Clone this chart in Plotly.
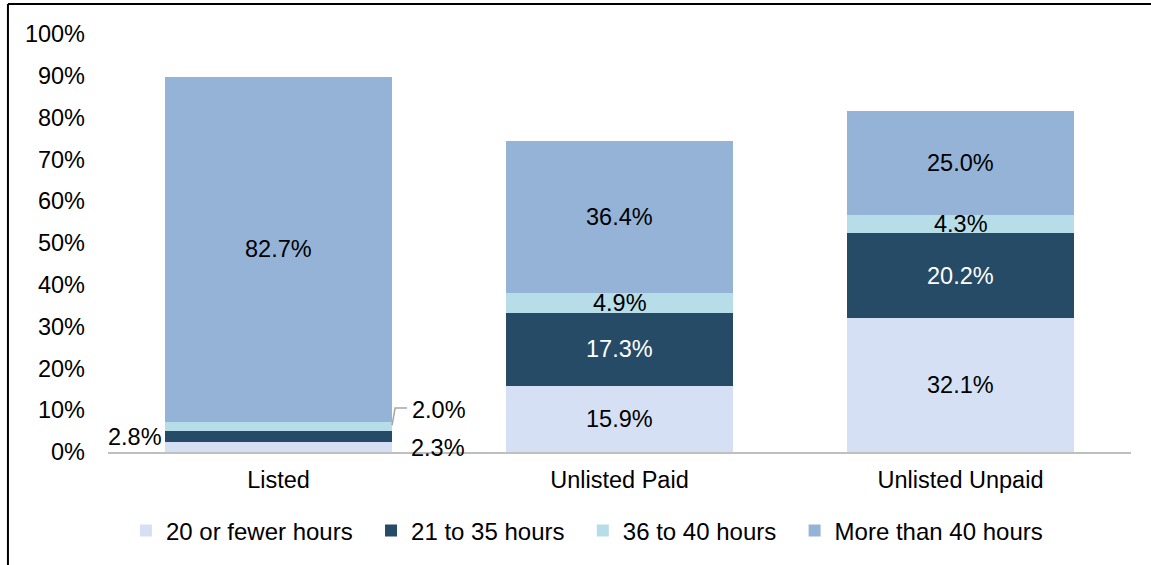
import plotly.graph_objects as go

# values (percent of each group)
categories = ['Listed', 'Unlisted Paid', 'Unlisted Unpaid']
series_names = ['20 or fewer hours', '21 to 35 hours', '36 to 40 hours', 'More than 40 hours']
under_20 = [2.3, 15.9, 32.1]
h21_35 = [2.8, 17.3, 20.2]
h36_40 = [2.0, 4.9, 4.3]
over_40 = [82.7, 36.4, 25.0]
y_ticks = [0, 10, 20, 30, 40, 50, 60, 70, 80, 90, 100]
y_tick_text = ['%d%%' % v for v in y_ticks]

colors = ['#D6E0F5', '#264B66', '#B7DDE8', '#95B3D7']
label_colors = ['black', 'white', 'black', 'black']
FONT = 'Liberation Sans, Arial, sans-serif'
FS = 23.5

series = [under_20, h21_35, h36_40, over_40]

fig = go.Figure()
for name, vals, col in zip(series_names, series, colors):
    # trailing nbsp widens the gap between legend entries a little
    fig.add_trace(go.Bar(name=name + '\u00a0\u00a0', x=categories, y=vals, width=0.667,
                         marker=dict(color=col, line=dict(width=0)),
                         textposition='none', hoverinfo='skip'))

# segment labels: centred in each segment, except the thin Listed ones
annotations = []
for i, cat in enumerate(categories):
    base = 0
    for s, vals in enumerate(series):
        mid = base + vals[i] / 2
        base += vals[i]
        txt = '%.1f%%' % vals[i]
        if i == 0 and s < 3:
            if s == 0:
                annotations.append(dict(x=0.333, y=mid, text=txt, xanchor='left', xshift=17, yshift=-1,
                                        showarrow=False, font=dict(color='black', size=FS)))
            elif s == 1:
                annotations.append(dict(x=-0.333, y=mid, text=txt, xanchor='right', xshift=-1,
                                        showarrow=False, font=dict(color='black', size=FS)))
            else:
                annotations.append(dict(x=0.333, y=mid, text=txt, xanchor='left', xshift=18, yshift=17,
                                        showarrow=False, font=dict(color='black', size=FS)))
            continue
        annotations.append(dict(x=i, y=mid, text=txt, showarrow=False,
                                font=dict(color=label_colors[s], size=FS)))

fig.update_layout(
    barmode='stack',
    width=1151, height=565,
    margin=dict(l=108, r=20, t=34, b=113),
    paper_bgcolor='white', plot_bgcolor='white',
    font=dict(family=FONT, size=FS, color='black'),
    annotations=annotations,
    xaxis=dict(showline=True, linecolor='#BFBFBF', linewidth=2, ticks='',
               showgrid=False, ticklabelstandoff=6, range=[-0.5, 2.5]),
    yaxis=dict(range=[0, 100], tickvals=y_ticks, ticktext=y_tick_text, showgrid=False,
               zeroline=False, showline=False, ticklabelstandoff=22),
    legend=dict(orientation='h', x=0.475, xanchor='center', y=-0.189, yanchor='middle',
                font=dict(size=24), traceorder='normal'),
    showlegend=True,
    shapes=[
        # leader line for the 2.0% label
        dict(type='path', xref='x', yref='y', path='M 0.333 6.4 L 0.342 10.5 L 0.377 10.5',
             line=dict(color='#A6A6A6', width=1.5)),
        # chart border (top and left edges)
        dict(type='line', xref='paper', yref='paper', x0=-0.0978, x1=1.2, y0=1.0718, y1=1.0718,
             line=dict(color='black', width=2)),
        dict(type='line', xref='paper', yref='paper', x0=-0.0978, x1=-0.0978, y0=1.0718, y1=-0.3,
             line=dict(color='black', width=2)),
    ],
)

fig.write_html('out.html', config={'displayModeBar': False},
               post_script="document.body.style.margin='0';")
